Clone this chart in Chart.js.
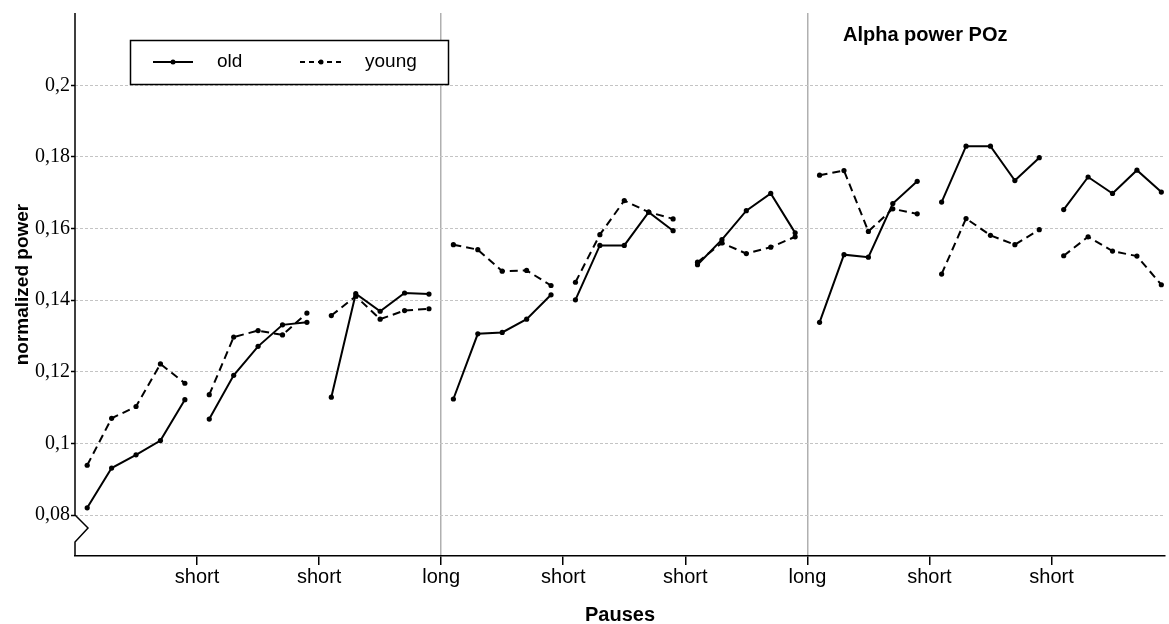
<!DOCTYPE html>
<html>
<head>
<meta charset="utf-8">
<script src="https://cdn.jsdelivr.net/npm/chart.js@4/dist/chart.umd.min.js"></script>
<style>
html,body{margin:0;padding:0;background:#fff}
#wrap{width:1169px;height:624px;position:relative}
</style>
</head>
<body>
<div id="wrap"><canvas id="powerChart"></canvas></div>
<script>
// alpha power POz, old vs young, 9 blocks of 5 trials

// old, per block of 5
const oldPower = [
0.0820, 0.0931, 0.0968, 0.1008, 0.1122,
0.1068, 0.1190, 0.1271, 0.1331, 0.1338,
0.1129, 0.1418, 0.1369, 0.1420, 0.1417,
0.1124, 0.1306, 0.1310, 0.1347, 0.1415,
0.1401, 0.1553, 0.1553, 0.1646, 0.1594,
0.1499, 0.1569, 0.1650, 0.1698, 0.1588,
0.1338, 0.1527, 0.1520, 0.1670, 0.1732,
0.1674, 0.1830, 0.1830, 0.1734, 0.1798,
0.1653, 0.1744, 0.1698, 0.1763, 0.1702
]

// young
const youngPower = [
0.0939, 0.1070, 0.1103, 0.1222, 0.1168,
0.1136, 0.1297, 0.1315, 0.1303, 0.1364,
0.1357, 0.1411, 0.1347, 0.1371, 0.1376,
0.1555, 0.1541, 0.1481, 0.1483, 0.1441,
0.1450, 0.1583, 0.1678, 0.1646, 0.1627,
0.1506, 0.1560, 0.1530, 0.1548, 0.1577,
0.1749, 0.1762, 0.1592, 0.1655, 0.1641,
0.1473, 0.1628, 0.1581, 0.1555, 0.1597,
0.1524, 0.1577, 0.1537, 0.1523, 0.1443
]

const blockSize = 5

// pauses between blocks
const pausePositions = [4.5, 9.5, 14.5, 19.5, 24.5, 29.5, 34.5, 39.5]
const pauseLabels = ["short", "short", "long", "short", "short", "long", "short", "short"]

const yTicks = [0.08, 0.1, 0.12, 0.14, 0.16, 0.18, 0.2]

const SANS = "'Liberation Sans', Arial, sans-serif"
const SERIF = "'Liberation Serif', 'Times New Roman', serif"

// points with a null between blocks so lines break
function toPoints(values){
let pts = []
values.forEach((v,i)=>{
pts.push({x:i, y:v})
if(i % blockSize === blockSize-1 && i < values.length-1){
pts.push({x:i+0.5, y:null})
}
})
return pts
}

// y axis with break + legend box + title
const extras = {
id:"extras",
afterDraw(chart){
const ctx = chart.ctx
const area = chart.chartArea
const y = chart.scales.y
const x0 = area.left
const yb = y.getPixelForValue(yTicks[0])

ctx.save()
ctx.strokeStyle = "#000"
ctx.lineWidth = 1.5
ctx.beginPath()
ctx.moveTo(x0, area.top)
ctx.lineTo(x0, yb)
ctx.lineTo(x0+13, yb+13)
ctx.lineTo(x0, yb+27)
ctx.lineTo(x0, area.bottom)
ctx.stroke()

// legend
ctx.fillStyle = "#fff"
ctx.fillRect(130, 40, 318, 44)
ctx.strokeRect(130.5, 40.5, 318, 44)

const ly = 62
const ds = chart.data.datasets
ctx.font = "19px " + SANS
ctx.textBaseline = "middle"
ctx.fillStyle = "#000"

ctx.lineWidth = 2
ctx.setLineDash([])
ctx.beginPath(); ctx.moveTo(153, ly); ctx.lineTo(193, ly); ctx.stroke()
ctx.beginPath(); ctx.arc(173, ly, 2.5, 0, Math.PI*2); ctx.fill()
ctx.fillText(ds[0].label, 217, ly)

ctx.setLineDash([5,4])
ctx.beginPath(); ctx.moveTo(300, ly); ctx.lineTo(344, ly); ctx.stroke()
ctx.setLineDash([])
ctx.beginPath(); ctx.arc(321, ly, 2.5, 0, Math.PI*2); ctx.fill()
ctx.fillText(ds[1].label, 365, ly)

// title
ctx.font = "bold 20px " + SANS
ctx.textBaseline = "alphabetic"
ctx.fillText("Alpha power POz", 843, 41)
ctx.restore()
}
}

new Chart(document.getElementById("powerChart"),{

type:"line",

data:{
datasets:[
{
label:"old",
data:toPoints(oldPower),
borderColor:"#000",
backgroundColor:"#000",
borderWidth:2,
pointRadius:2.6,
pointBackgroundColor:"#000",
pointBorderWidth:0,
spanGaps:false,
tension:0
},
{
label:"young",
data:toPoints(youngPower),
borderColor:"#000",
backgroundColor:"#000",
borderWidth:2,
borderDash:[8,5],
pointRadius:2.6,
pointBackgroundColor:"#000",
pointBorderWidth:0,
spanGaps:false,
tension:0
}
]
},

plugins:[extras],

options:{
responsive:true,
maintainAspectRatio:false,
animation:false,
layout:{padding:{top:13, right:0, left:0, bottom:0}},

plugins:{
legend:{display:false},
tooltip:{enabled:false}
},

scales:{
x:{
type:"linear",
min:-0.5,
max:44.15,
afterBuildTicks:function(scale){
scale.ticks = pausePositions.map(v => ({value:v}))
},
afterFit:function(scale){
scale.height = 68
},
ticks:{
autoSkip:false,
maxRotation:0,
padding:0,
color:"#000",
font:{family:SANS, size:20},
callback:function(v, i){
return pauseLabels[i]
}
},
grid:{
drawOnChartArea:true,
color:function(c){
return pauseLabels[c.index] === "long" ? "#b0b0b0" : "rgba(0,0,0,0)"
},
lineWidth:1.5,
tickColor:"#000",
tickLength:9,
tickWidth:1.5
},
border:{display:true, color:"#000", width:1.5},
title:{
display:true,
text:"Pauses",
color:"#000",
font:{family:SANS, size:20, weight:"bold", lineHeight:1},
padding:{top:0, bottom:-1}
}
},
y:{
min:0.06855,
max:0.2202,
afterBuildTicks:function(scale){
scale.ticks = yTicks.map(v => ({value:v}))
},
afterFit:function(scale){
scale.width = 75
},
ticks:{
padding:1,
color:"#000",
font:{family:SERIF, size:20},
callback:function(v){
return String(v).replace(".", ",")
}
},
grid:{
color:"#c4c4c4",
lineWidth:1,
tickColor:"#000",
tickLength:4,
tickWidth:1.5
},
border:{display:false, dash:[3,2]},
title:{
display:true,
text:"normalized power",
color:"#000",
font:{family:SANS, size:19, weight:"bold", lineHeight:1},
padding:{top:13, bottom:0}
}
}
}

}

})
</script>
</body>
</html>
